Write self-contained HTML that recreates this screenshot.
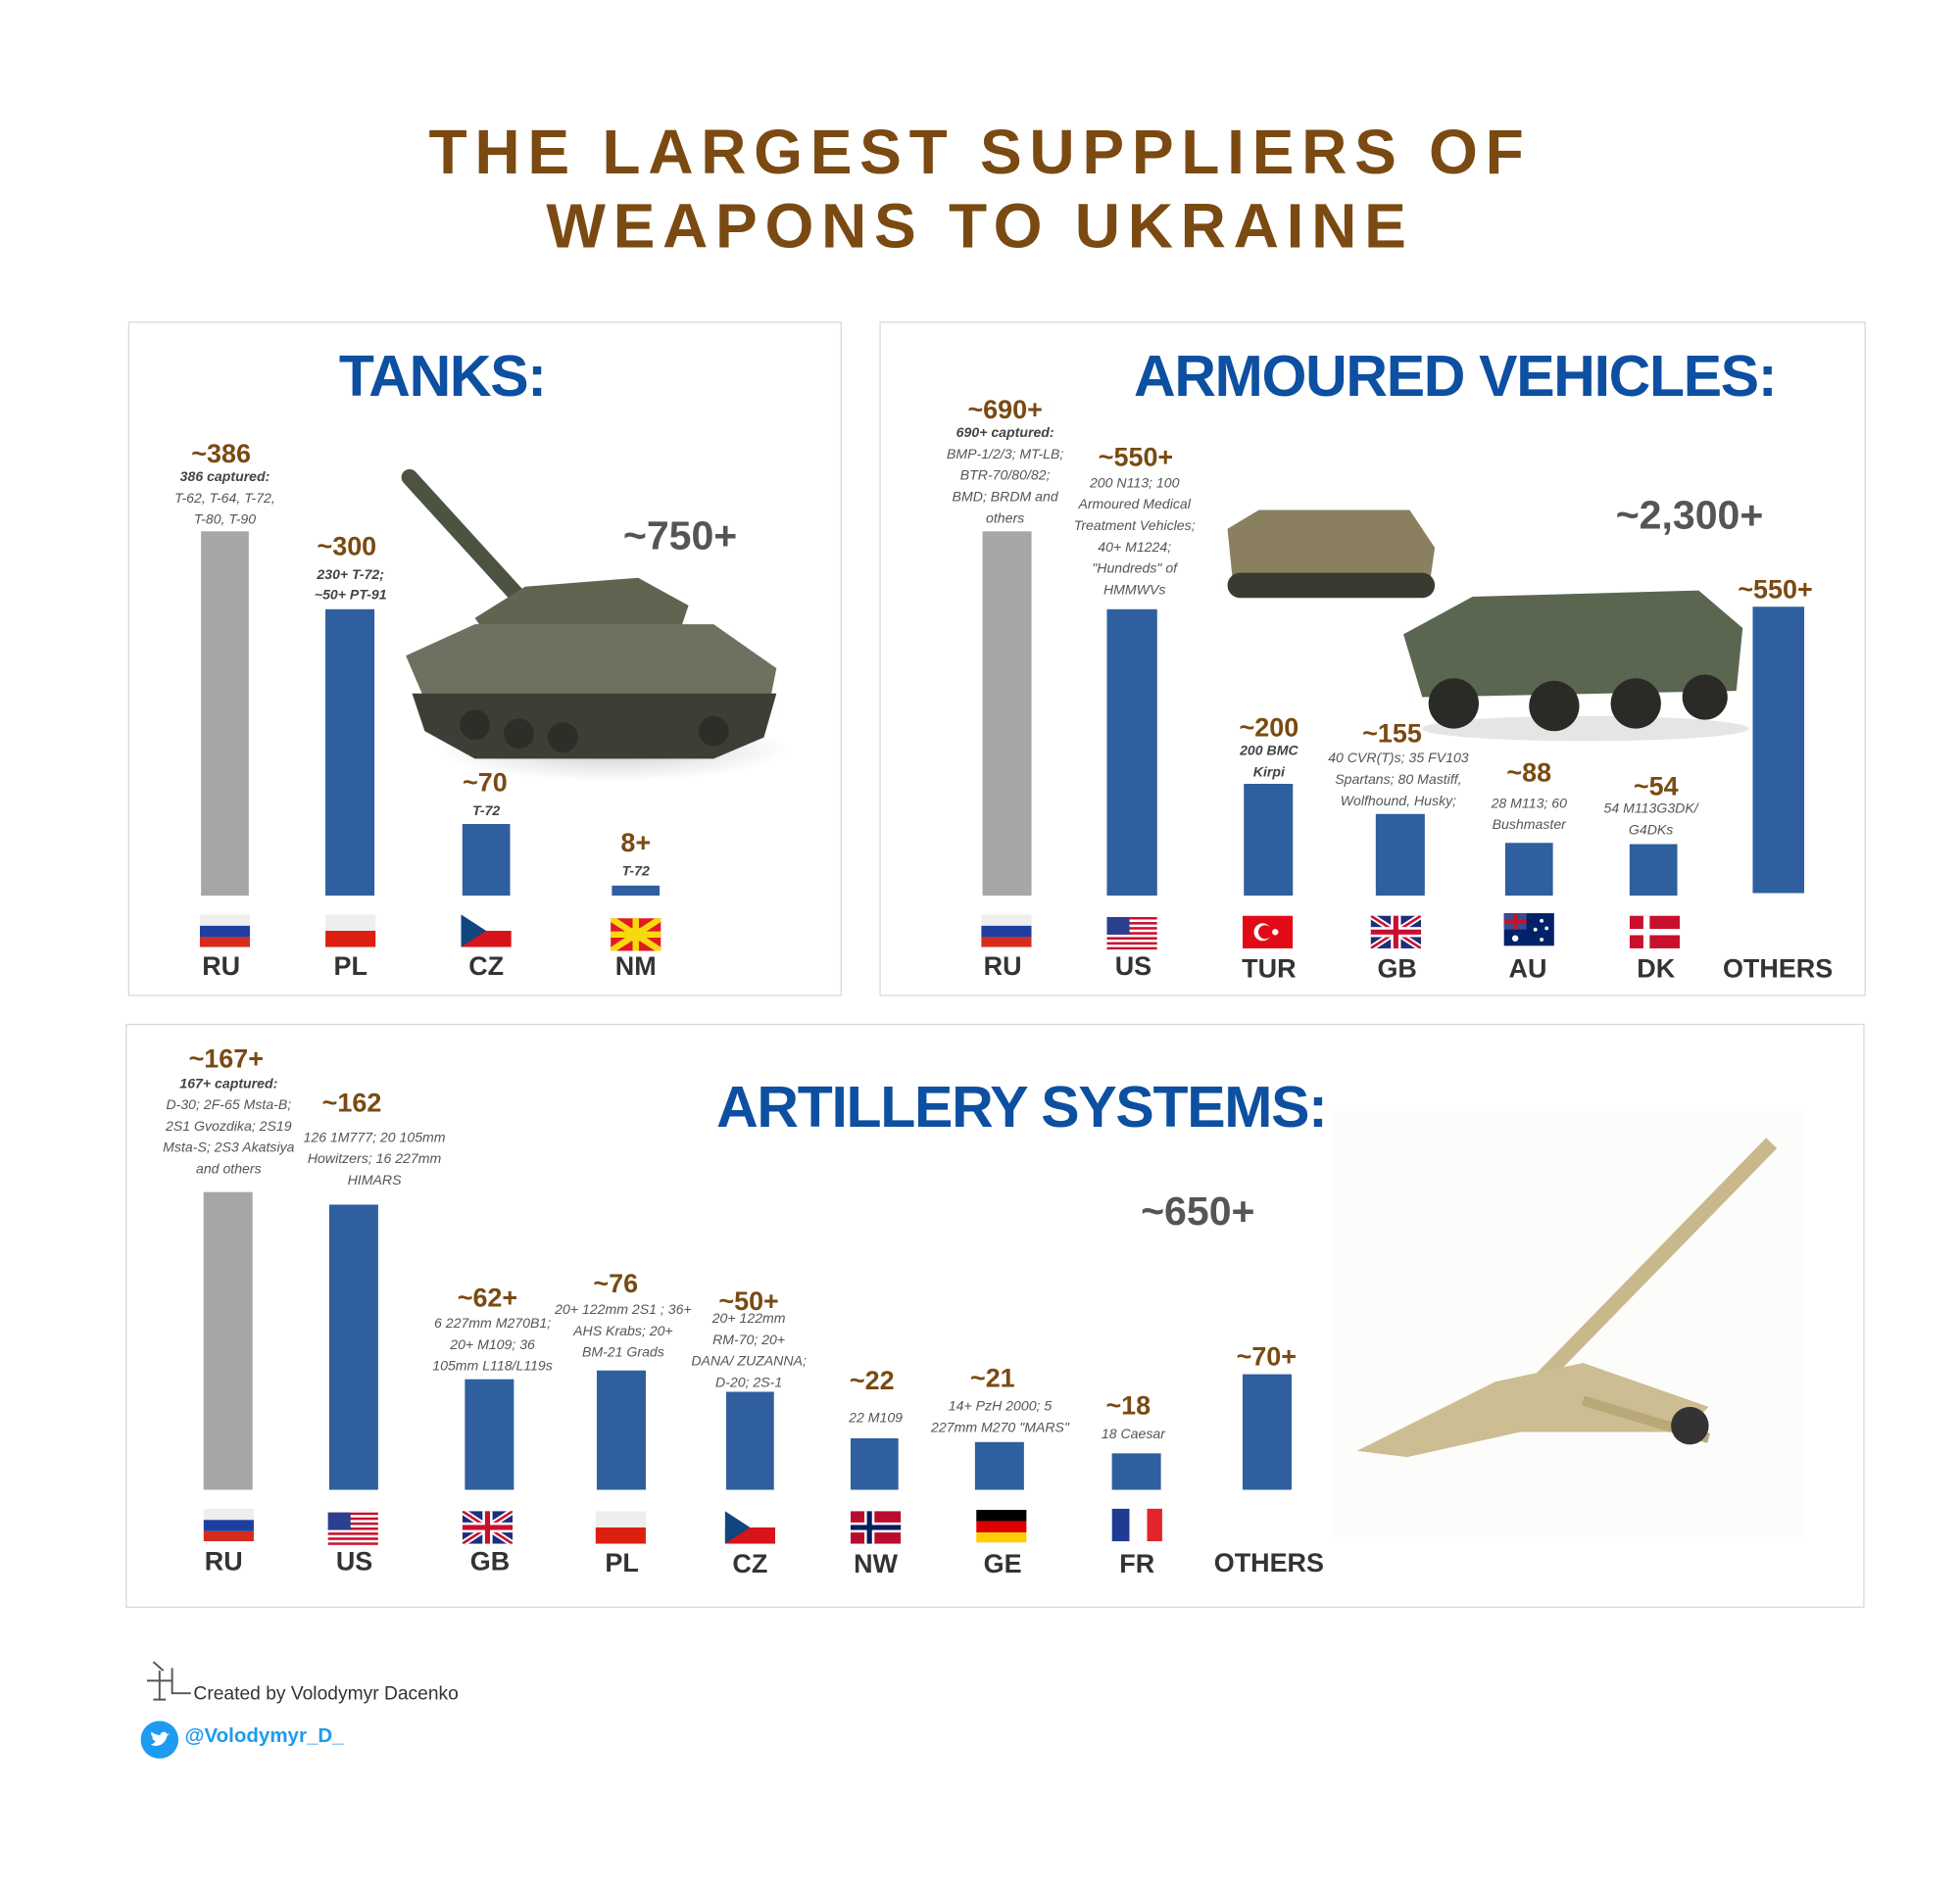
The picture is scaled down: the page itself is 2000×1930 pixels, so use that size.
<!DOCTYPE html>
<html><head><meta charset="utf-8">
<style>
html,body{margin:0;padding:0;background:#fff;}
body{width:2000px;height:1929px;overflow:hidden;position:relative;}
#s{position:absolute;left:0;top:0;width:1560px;height:1505px;transform:scale(1.28205);transform-origin:0 0;font-family:"Liberation Sans",sans-serif;}
.a{position:absolute;}
.panel{position:absolute;border:1px solid #d9d9d9;background:#fff;}
.ttl{position:absolute;color:#7a4a12;font-weight:bold;font-size:50px;letter-spacing:6px;text-align:center;width:1560px;left:0;}
.pt{position:absolute;color:#0d4fa0;font-weight:bold;font-size:46px;text-align:center;white-space:nowrap;letter-spacing:-1px;transform:translateX(-50%);}
.bar{position:absolute;background:#2f5f9e;}
.g{background:#a6a6a6;}
.v{position:absolute;color:#7a4a12;font-weight:bold;font-size:21px;text-align:center;width:120px;transform:translateX(-50%);}
.n{position:absolute;color:#555;font-style:italic;font-size:11px;line-height:17px;text-align:center;width:120px;transform:translateX(-50%);}
.n b{color:#444;}
.c{position:absolute;color:#333;font-weight:bold;font-size:21px;text-align:center;width:110px;transform:translateX(-50%);}
.big{position:absolute;color:#555;font-weight:bold;font-size:32px;}
svg.f{position:absolute;width:40px;height:26px;}
</style></head><body><div id="s">
<div class="ttl" style="top:92px;">THE LARGEST SUPPLIERS OF</div>
<div class="ttl" style="top:151px;">WEAPONS TO UKRAINE</div>

<div class="panel" style="left:102px;top:256px;width:566px;height:535px;"></div>
<div class="panel" style="left:700px;top:256px;width:783px;height:535px;"></div>
<div class="panel" style="left:100px;top:815px;width:1382px;height:463px;"></div>

<div class="pt" style="left:352px;top:272px;">TANKS:</div>
<div class="pt" style="left:1158px;top:272px;">ARMOURED VEHICLES:</div>
<div class="pt" style="left:813px;top:854px;">ARTILLERY SYSTEMS:</div>

<!-- tank image -->
<svg class="a" style="left:318px;top:372px;" width="310" height="250" viewBox="0 0 310 250">
<defs><radialGradient id="sh"><stop offset="0" stop-color="#ccc"/><stop offset="1" stop-color="#fff"/></radialGradient></defs>
<ellipse cx="170" cy="225" rx="140" ry="25" fill="url(#sh)"/>
<line x1="8" y1="8" x2="110" y2="120" stroke="#4d5341" stroke-width="13" stroke-linecap="round"/>
<polygon points="60,120 100,95 190,88 230,110 220,140 80,150" fill="#5f6550"/>
<polygon points="5,150 60,125 250,125 300,160 295,185 20,185" fill="#6d7260"/>
<polygon points="10,180 300,180 290,215 250,232 60,232 20,210" fill="#3c3f36"/>
<g fill="#2c2e28"><circle cx="60" cy="205" r="12"/><circle cx="95" cy="212" r="12"/><circle cx="130" cy="215" r="12"/><circle cx="250" cy="210" r="12"/></g>
</svg>
<div class="big" style="left:496px;top:408px;">~750+</div>

<!-- tanks bars -->
<div class="bar g" style="left:160px;top:423px;width:38px;height:290px;"></div>
<div class="bar" style="left:259px;top:485px;width:39px;height:228px;"></div>
<div class="bar" style="left:368px;top:656px;width:38px;height:57px;"></div>
<div class="bar" style="left:487px;top:705px;width:38px;height:8px;"></div>
<div class="v" style="left:176px;top:350px;">~386</div>
<div class="n" style="left:179px;top:372px;"><b>386 captured:</b><br>T-62, T-64, T-72,<br>T-80, T-90</div>
<div class="v" style="left:276px;top:424px;">~300</div>
<div class="n" style="left:279px;top:450px;line-height:16px;"><b>230+ T-72;<br>~50+ PT-91</b></div>
<div class="v" style="left:386px;top:612px;">~70</div>
<div class="n" style="left:387px;top:638px;"><b>T-72</b></div>
<div class="v" style="left:506px;top:660px;">8+</div>
<div class="n" style="left:506px;top:686px;"><b>T-72</b></div>

<!-- armoured -->
<svg class="a" style="left:972px;top:376px;" width="180" height="110" viewBox="0 0 180 110"><polygon points="5,45 30,30 150,30 170,60 165,95 10,95" fill="#8a7f5e"/><rect x="5" y="80" width="165" height="20" rx="10" fill="#3b3a30"/></svg>
<svg class="a" style="left:1112px;top:440px;" width="280" height="150" viewBox="0 0 280 150"><ellipse cx="150" cy="140" rx="130" ry="10" fill="#e5e5e5"/><polygon points="5,65 60,35 240,30 275,60 270,110 20,115" fill="#5b6651"/><g fill="#2a2b27"><circle cx="45" cy="120" r="20"/><circle cx="125" cy="122" r="20"/><circle cx="190" cy="120" r="20"/><circle cx="245" cy="115" r="18"/></g></svg>
<div class="big" style="left:1286px;top:392px;">~2,300+</div>

<div class="bar g" style="left:782px;top:423px;width:39px;height:290px;"></div>
<div class="bar" style="left:881px;top:485px;width:40px;height:228px;"></div>
<div class="bar" style="left:990px;top:624px;width:39px;height:89px;"></div>
<div class="bar" style="left:1095px;top:648px;width:39px;height:65px;"></div>
<div class="bar" style="left:1198px;top:671px;width:38px;height:42px;"></div>
<div class="bar" style="left:1297px;top:672px;width:38px;height:41px;"></div>
<div class="bar" style="left:1395px;top:483px;width:41px;height:228px;"></div>
<div class="v" style="left:800px;top:315px;">~690+</div>
<div class="n" style="left:800px;top:337px;"><b>690+ captured:</b><br>BMP-1/2/3; MT-LB;<br>BTR-70/80/82;<br>BMD; BRDM and<br>others</div>
<div class="v" style="left:904px;top:353px;">~550+</div>
<div class="n" style="left:903px;top:377px;width:115px;">200 N113; 100 Armoured Medical Treatment Vehicles; 40+ M1224; "Hundreds" of HMMWVs</div>
<div class="v" style="left:1010px;top:568px;">~200</div>
<div class="n" style="left:1010px;top:590px;"><b>200 BMC<br>Kirpi</b></div>
<div class="v" style="left:1108px;top:573px;">~155</div>
<div class="n" style="left:1113px;top:596px;width:125px;">40 CVR(T)s; 35 FV103 Spartans; 80 Mastiff, Wolfhound, Husky;</div>
<div class="v" style="left:1217px;top:604px;">~88</div>
<div class="n" style="left:1217px;top:632px;">28 M113; 60<br>Bushmaster</div>
<div class="v" style="left:1318px;top:615px;">~54</div>
<div class="n" style="left:1314px;top:636px;">54 M113G3DK/<br>G4DKs</div>
<div class="v" style="left:1413px;top:458px;">~550+</div>

<!-- artillery -->
<svg class="a" style="left:1060px;top:885px;" width="376" height="338" viewBox="0 0 376 338"><rect width="376" height="338" fill="#fcfcfa"/>
<line x1="150" y1="230" x2="350" y2="25" stroke="#c9b88c" stroke-width="12"/>
<polygon points="20,270 130,215 200,200 300,235 280,255 150,255 60,275" fill="#cdbd92"/>
<line x1="200" y1="230" x2="300" y2="260" stroke="#b9a878" stroke-width="8"/>
<circle cx="285" cy="250" r="15" fill="#333"/></svg>
<div class="big" style="left:908px;top:946px;">~650+</div>

<div class="bar g" style="left:162px;top:949px;width:39px;height:237px;"></div>
<div class="bar" style="left:262px;top:959px;width:39px;height:227px;"></div>
<div class="bar" style="left:370px;top:1098px;width:39px;height:88px;"></div>
<div class="bar" style="left:475px;top:1091px;width:39px;height:95px;"></div>
<div class="bar" style="left:578px;top:1108px;width:38px;height:78px;"></div>
<div class="bar" style="left:677px;top:1145px;width:38px;height:41px;"></div>
<div class="bar" style="left:776px;top:1148px;width:39px;height:38px;"></div>
<div class="bar" style="left:885px;top:1157px;width:39px;height:29px;"></div>
<div class="bar" style="left:989px;top:1094px;width:39px;height:92px;"></div>
<div class="v" style="left:180px;top:832px;">~167+</div>
<div class="n" style="left:182px;top:855px;width:125px;"><b>167+ captured:</b><br>D-30; 2F-65 Msta-B;<br>2S1 Gvozdika; 2S19<br>Msta-S; 2S3 Akatsiya<br>and others</div>
<div class="v" style="left:280px;top:867px;">~162</div>
<div class="n" style="left:298px;top:898px;">126 1M777; 20 105mm<br>Howitzers; 16 227mm<br>HIMARS</div>
<div class="v" style="left:388px;top:1022px;">~62+</div>
<div class="n" style="left:392px;top:1046px;">6 227mm M270B1;<br>20+ M109; 36<br>105mm L118/L119s</div>
<div class="v" style="left:490px;top:1011px;">~76</div>
<div class="n" style="left:496px;top:1035px;">20+ 122mm 2S1 ; 36+<br>AHS Krabs; 20+<br>BM-21 Grads</div>
<div class="v" style="left:596px;top:1025px;">~50+</div>
<div class="n" style="left:596px;top:1042px;">20+ 122mm<br>RM-70; 20+<br>DANA/ ZUZANNA;<br>D-20; 2S-1</div>
<div class="v" style="left:694px;top:1088px;">~22</div>
<div class="n" style="left:697px;top:1121px;">22 M109</div>
<div class="v" style="left:790px;top:1086px;">~21</div>
<div class="n" style="left:796px;top:1112px;width:130px;">14+ PzH 2000; 5<br>227mm M270 "MARS"</div>
<div class="v" style="left:898px;top:1108px;">~18</div>
<div class="n" style="left:902px;top:1134px;">18 Caesar</div>
<div class="v" style="left:1008px;top:1069px;">~70+</div>

<!-- flags -->
<svg class="f" style="left:159px;top:728px" viewBox="0 0 40 26"><rect width="40" height="9" fill="#eee"/><rect y="9" width="40" height="9" fill="#1e3fa0"/><rect y="18" width="40" height="8" fill="#d52b1e"/></svg>
<svg class="f" style="left:259px;top:728px" viewBox="0 0 40 26"><rect width="40" height="13" fill="#eee"/><rect y="13" width="40" height="13" fill="#dc2010"/></svg>
<svg class="f" style="left:367px;top:728px" viewBox="0 0 40 26"><rect width="40" height="13" fill="#fff"/><rect y="13" width="40" height="13" fill="#d7141a"/><polygon points="0,0 20,13 0,26" fill="#11457e"/></svg>
<svg class="f" style="left:486px;top:731px" viewBox="0 0 40 26"><rect width="40" height="26" fill="#e01b22"/><g stroke="#f8d90f" stroke-width="5"><line x1="0" y1="0" x2="40" y2="26"/><line x1="40" y1="0" x2="0" y2="26"/><line x1="20" y1="0" x2="20" y2="26"/><line x1="0" y1="13" x2="40" y2="13"/></g><circle cx="20" cy="13" r="6" fill="#f8d90f"/></svg>

<svg class="f" style="left:781px;top:728px" viewBox="0 0 40 26"><rect width="40" height="9" fill="#eee"/><rect y="9" width="40" height="9" fill="#1e3fa0"/><rect y="18" width="40" height="8" fill="#d52b1e"/></svg>
<svg class="f" style="left:881px;top:730px" viewBox="0 0 40 26"><rect width="40" height="26" fill="#fff"/><g fill="#c8102e"><rect width="40" height="2"/><rect y="4" width="40" height="2"/><rect y="8" width="40" height="2"/><rect y="12" width="40" height="2"/><rect y="16" width="40" height="2"/><rect y="20" width="40" height="2"/><rect y="24" width="40" height="2"/></g><rect width="18" height="14" fill="#2a3f8f"/></svg>
<svg class="f" style="left:989px;top:729px" viewBox="0 0 40 26"><rect width="40" height="26" fill="#e30a17"/><circle cx="16" cy="13" r="7" fill="#fff"/><circle cx="18" cy="13" r="5.5" fill="#e30a17"/><circle cx="26" cy="13" r="2.5" fill="#fff"/></svg>
<svg class="f" style="left:1091px;top:729px" viewBox="0 0 40 26"><rect width="40" height="26" fill="#1d2f7a"/><g stroke="#fff" stroke-width="5"><line x1="0" y1="0" x2="40" y2="26"/><line x1="40" y1="0" x2="0" y2="26"/></g><g stroke="#c8102e" stroke-width="2"><line x1="0" y1="0" x2="40" y2="26"/><line x1="40" y1="0" x2="0" y2="26"/></g><rect x="16" width="8" height="26" fill="#fff"/><rect y="9" width="40" height="8" fill="#fff"/><rect x="18" width="4" height="26" fill="#c8102e"/><rect y="11" width="40" height="4" fill="#c8102e"/></svg>
<svg class="f" style="left:1197px;top:727px" viewBox="0 0 40 26"><rect width="40" height="26" fill="#012169"/><rect width="18" height="13" fill="#3a4c90"/><line x1="9" y1="0" x2="9" y2="13" stroke="#c8102e" stroke-width="3"/><line x1="0" y1="6.5" x2="18" y2="6.5" stroke="#c8102e" stroke-width="3"/><g fill="#fff"><circle cx="9" cy="20" r="2.5"/><circle cx="30" cy="6" r="1.5"/><circle cx="25" cy="13" r="1.5"/><circle cx="34" cy="12" r="1.5"/><circle cx="30" cy="21" r="1.5"/></g></svg>
<svg class="f" style="left:1297px;top:729px" viewBox="0 0 40 26"><rect width="40" height="26" fill="#c8102e"/><rect x="11" width="5" height="26" fill="#fff"/><rect y="10.5" width="40" height="5" fill="#fff"/></svg>

<svg class="f" style="left:162px;top:1201px" viewBox="0 0 40 26"><rect width="40" height="9" fill="#eee"/><rect y="9" width="40" height="9" fill="#1e3fa0"/><rect y="18" width="40" height="8" fill="#d52b1e"/></svg>
<svg class="f" style="left:261px;top:1204px" viewBox="0 0 40 26"><rect width="40" height="26" fill="#fff"/><g fill="#c8102e"><rect width="40" height="2"/><rect y="4" width="40" height="2"/><rect y="8" width="40" height="2"/><rect y="12" width="40" height="2"/><rect y="16" width="40" height="2"/><rect y="20" width="40" height="2"/><rect y="24" width="40" height="2"/></g><rect width="18" height="14" fill="#2a3f8f"/></svg>
<svg class="f" style="left:368px;top:1203px" viewBox="0 0 40 26"><rect width="40" height="26" fill="#1d2f7a"/><g stroke="#fff" stroke-width="5"><line x1="0" y1="0" x2="40" y2="26"/><line x1="40" y1="0" x2="0" y2="26"/></g><g stroke="#c8102e" stroke-width="2"><line x1="0" y1="0" x2="40" y2="26"/><line x1="40" y1="0" x2="0" y2="26"/></g><rect x="16" width="8" height="26" fill="#fff"/><rect y="9" width="40" height="8" fill="#fff"/><rect x="18" width="4" height="26" fill="#c8102e"/><rect y="11" width="40" height="4" fill="#c8102e"/></svg>
<svg class="f" style="left:474px;top:1203px" viewBox="0 0 40 26"><rect width="40" height="13" fill="#eee"/><rect y="13" width="40" height="13" fill="#dc2010"/></svg>
<svg class="f" style="left:577px;top:1203px" viewBox="0 0 40 26"><rect width="40" height="13" fill="#fff"/><rect y="13" width="40" height="13" fill="#d7141a"/><polygon points="0,0 20,13 0,26" fill="#11457e"/></svg>
<svg class="f" style="left:677px;top:1203px" viewBox="0 0 40 26"><rect width="40" height="26" fill="#ba0c2f"/><rect x="11" width="8" height="26" fill="#fff"/><rect y="9" width="40" height="8" fill="#fff"/><rect x="13" width="4" height="26" fill="#00205b"/><rect y="11" width="40" height="4" fill="#00205b"/></svg>
<svg class="f" style="left:777px;top:1202px" viewBox="0 0 40 26"><rect width="40" height="9" fill="#000"/><rect y="9" width="40" height="9" fill="#dd0000"/><rect y="18" width="40" height="8" fill="#ffce00"/></svg>
<svg class="f" style="left:885px;top:1201px" viewBox="0 0 40 26"><rect width="14" height="26" fill="#1f3b94"/><rect x="14" width="14" height="26" fill="#fff"/><rect x="28" width="14" height="26" fill="#e1252b"/></svg>

<!-- country labels -->
<div class="c" style="left:176px;top:758px;">RU</div>
<div class="c" style="left:279px;top:758px;">PL</div>
<div class="c" style="left:387px;top:758px;">CZ</div>
<div class="c" style="left:506px;top:758px;">NM</div>
<div class="c" style="left:798px;top:758px;">RU</div>
<div class="c" style="left:902px;top:758px;">US</div>
<div class="c" style="left:1010px;top:760px;">TUR</div>
<div class="c" style="left:1112px;top:760px;">GB</div>
<div class="c" style="left:1216px;top:760px;">AU</div>
<div class="c" style="left:1318px;top:760px;">DK</div>
<div class="c" style="left:1415px;top:760px;width:130px;">OTHERS</div>
<div class="c" style="left:178px;top:1232px;">RU</div>
<div class="c" style="left:282px;top:1232px;">US</div>
<div class="c" style="left:390px;top:1232px;">GB</div>
<div class="c" style="left:495px;top:1233px;">PL</div>
<div class="c" style="left:597px;top:1234px;">CZ</div>
<div class="c" style="left:697px;top:1234px;">NW</div>
<div class="c" style="left:798px;top:1234px;">GE</div>
<div class="c" style="left:905px;top:1234px;">FR</div>
<div class="c" style="left:1010px;top:1233px;width:130px;">OTHERS</div>

<!-- footer -->
<svg class="a" style="left:112px;top:1318px;" width="40" height="40" viewBox="0 0 40 40"><path d="M10,5 L18,12 M5,20 L25,20 M15,12 L15,35 M10,35 L20,35 M25,10 L25,30 L40,30" stroke="#555" stroke-width="1.5" fill="none"/></svg>
<div class="a" style="left:154px;top:1340px;font-size:15px;color:#333;">Created by Volodymyr Dacenko</div>
<svg class="a" style="left:112px;top:1370px;" width="30" height="30" viewBox="0 0 30 30"><circle cx="15" cy="15" r="15" fill="#1d9bf0"/><path d="M8,19 C12,21 19,20 21,12 L23,10 L21,10.5 C20,8 16,8 15.5,11.5 C12,11 10,10 8.5,8.5 C8,11 9,13 10.5,13.5 L9,13.5 C9.5,15 11,16 12,16 C11,17.5 9.5,18.5 8,19Z" fill="#fff"/></svg>
<div class="a" style="left:147px;top:1374px;font-size:16px;font-weight:bold;color:#1d9bf0;">@Volodymyr_D_</div>
</div></body></html>
